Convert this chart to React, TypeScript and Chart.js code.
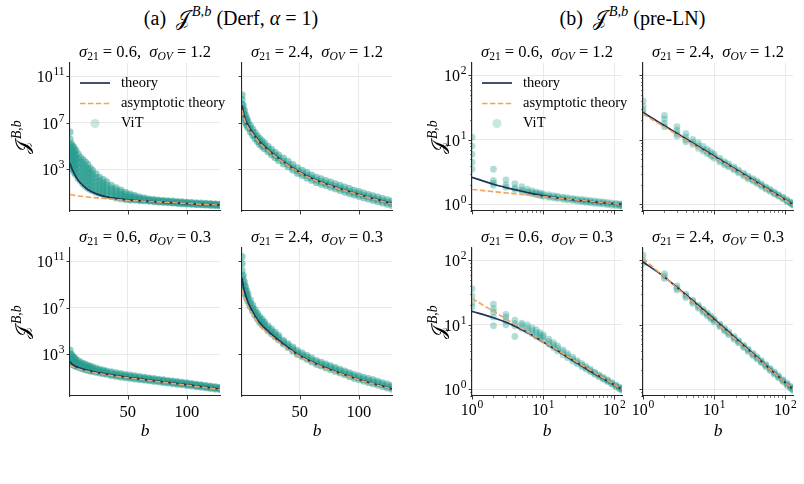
import React, { useEffect, useRef } from "react";
import { Chart, registerables } from "chart.js";

Chart.register(...registerables);

const SERIF = '"Liberation Serif", "Times New Roman", serif';
const SCRIPT = '"DejaVu Serif", "DejaVu Sans", serif';
const NAVY = "#1d3557";
const ORANGE = "#f4a261";
const TEAL_FILL_A = "rgba(42, 157, 143, 0.5)";
const TEAL_FILL_B = "rgba(42, 157, 143, 0.36)";
const TEAL_LEGEND = "rgba(42, 157, 143, 0.25)";
const GRID = "#e9e9e9";
const INK = "#262626";

// ---------------- axes ----------------
const X_RANGE = [1, 128];
const Y_RANGE_A = [0.25, 1.4e12];
const Y_RANGE_B = [0.79, 155];
const X_TICKS_A = [50, 100];
const X_TICKS_B = [1, 10, 100];
const Y_TICKS_A = [1e3, 1e7, 1e11];
const Y_TICKS_B = [1, 10, 100];
const MINOR_B = [0.8, 0.9, 2, 3, 4, 5, 6, 7, 8, 9, 20, 30, 40, 50, 60, 70, 80, 90];

// ---------------- (a) Derf, alpha = 1 : values are log10 J ----------------
const B_LINE = [1, 2, 3, 4, 6, 8, 12, 16, 24, 32, 48, 64, 96, 128];

const derfTheory_06_12 = [3.5, 3.2, 2.95, 2.75, 2.35, 2.05, 1.6, 1.25, 0.85, 0.62, 0.38, 0.25, 0.05, -0.1];
const derfAsym_06_12 = [0.82, 0.79, 0.77, 0.75, 0.72, 0.69, 0.65, 0.6, 0.53, 0.46, 0.33, 0.24, 0.07, -0.1];
const derfTheory_24_12 = [8.5, 7.95, 7.55, 7.2, 6.8, 6.45, 5.85, 5.35, 4.6, 3.95, 2.85, 2.05, 0.95, 0.04];
const derfAsym_24_12 = [8.1, 7.65, 7.3, 7.0, 6.6, 6.3, 5.75, 5.25, 4.52, 3.9, 2.8, 2.0, 0.92, 0.0];
const derfTheory_06_03 = [2.36, 2.22, 2.12, 2.05, 1.93, 1.85, 1.72, 1.6, 1.42, 1.28, 1.03, 0.82, 0.42, 0.0];
const derfAsym_06_03 = [2.05, 1.99, 1.93, 1.88, 1.8, 1.73, 1.62, 1.52, 1.36, 1.23, 0.99, 0.78, 0.38, -0.04];
const derfTheory_24_03 = [9.55, 8.9, 8.45, 8.1, 7.5, 7.05, 6.3, 5.7, 4.9, 4.2, 3.0, 2.15, 0.95, 0.0];
const derfAsym_24_03 = [8.6, 8.2, 7.9, 7.6, 7.1, 6.75, 6.1, 5.45, 4.7, 4.05, 2.93, 2.1, 0.92, -0.02];

// ViT measurements, one list of log10 J values per b
const B_VIT_A = [1, 2, 3, 4, 5, 6, 8, 10, 12, 14, 16, 18, 20, 23, 26, 29, 32, 36, 40, 44, 48, 52, 56, 60, 64, 68, 72, 76, 80, 84, 88, 92, 96, 100, 104, 108, 112, 116, 120, 124, 128];

const derfVit_06_12 = [
  [6.2, 5.6, 5.1, 4.7, 4.3, 3.9, 3.6],
  [5.2, 4.8, 4.4, 4.0, 3.6, 3.3],
  [5.0, 4.6, 4.2, 3.8, 3.4, 3.05],
  [4.9, 4.5, 4.1, 3.7, 3.3, 2.9],
  [4.7, 4.3, 3.9, 3.5, 3.1, 2.7],
  [4.6, 4.2, 3.8, 3.4, 3.0, 2.55],
  [4.3, 3.9, 3.5, 3.1, 2.65, 2.2],
  [4.0, 3.6, 3.2, 2.8, 2.4, 2.0],
  [3.8, 3.4, 3.0, 2.6, 2.2, 1.75],
  [3.6, 3.2, 2.8, 2.4, 2.0, 1.55],
  [3.4, 3.0, 2.6, 2.2, 1.8, 1.38],
  [3.1, 2.75, 2.4, 2.0, 1.65, 1.28],
  [2.9, 2.55, 2.2, 1.85, 1.5, 1.17],
  [2.6, 2.3, 1.95, 1.65, 1.32, 1.02],
  [2.3, 2.0, 1.7, 1.45, 1.18, 0.93],
  [2.1, 1.8, 1.55, 1.3, 1.05, 0.83],
  [1.9, 1.62, 1.38, 1.15, 0.94, 0.74],
  [1.6, 1.38, 1.17, 0.98, 0.8, 0.65],
  [1.4, 1.2, 1.0, 0.82, 0.65, 0.52],
  [1.2, 1.02, 0.85, 0.7, 0.56, 0.46],
  [1.0, 0.85, 0.7, 0.57, 0.47, 0.4],
  [0.85, 0.72, 0.6, 0.5, 0.42, 0.36],
  [0.72, 0.6, 0.5, 0.42, 0.34],
  [0.6, 0.5, 0.42, 0.35, 0.3],
  [0.5, 0.42, 0.35, 0.28],
  [0.43, 0.36, 0.3, 0.24],
  [0.38, 0.31, 0.26, 0.21],
  [0.34, 0.27, 0.22, 0.18],
  [0.3, 0.24, 0.19, 0.15],
  [0.27, 0.21, 0.16, 0.12],
  [0.24, 0.18, 0.13, 0.09],
  [0.21, 0.15, 0.1, 0.06],
  [0.18, 0.12, 0.07, 0.03],
  [0.15, 0.09, 0.05, 0.01],
  [0.12, 0.07, 0.02, -0.02],
  [0.1, 0.04, 0.0, -0.04],
  [0.07, 0.02, -0.02, -0.06],
  [0.05, 0.0, -0.04, -0.08],
  [0.03, -0.02, -0.06, -0.1],
  [0.0, -0.04, -0.08, -0.12],
  [-0.02, -0.06, -0.1, -0.14],
];

const derfVit_24_12 = [
  [9.4, 9.0, 8.6, 8.2],
  [8.5, 8.15, 7.8],
  [8.05, 7.7, 7.4],
  [7.65, 7.3, 7.0],
  [7.38, 7.05, 6.78],
  [7.15, 6.85, 6.58],
  [6.78, 6.5, 6.23],
  [6.45, 6.18, 5.93],
  [6.15, 5.88, 5.63],
  [5.88, 5.62, 5.38],
  [5.63, 5.37, 5.13],
  [5.43, 5.18, 4.95],
  [5.24, 5.0, 4.77],
  [4.97, 4.72, 4.5],
  [4.71, 4.46, 4.24],
  [4.46, 4.21, 3.99],
  [4.22, 3.97, 3.75],
  [3.95, 3.69, 3.47],
  [3.67, 3.42, 3.2],
  [3.39, 3.13, 2.92],
  [3.11, 2.86, 2.65],
  [2.9, 2.66, 2.45],
  [2.7, 2.46, 2.25],
  [2.5, 2.26, 2.05],
  [2.3, 2.06, 1.86],
  [2.16, 1.92, 1.72],
  [2.02, 1.79, 1.59],
  [1.88, 1.65, 1.45],
  [1.74, 1.51, 1.31],
  [1.6, 1.37, 1.17],
  [1.46, 1.23, 1.03],
  [1.32, 1.1, 0.9],
  [1.18, 0.96, 0.77],
  [1.06, 0.85, 0.66],
  [0.94, 0.73, 0.54],
  [0.82, 0.62, 0.43],
  [0.71, 0.51, 0.32],
  [0.59, 0.39, 0.2],
  [0.47, 0.28, 0.09],
  [0.35, 0.16, -0.02],
  [0.24, 0.05, -0.13],
];

const derfVit_06_03 = [
  [3.35, 3.0, 2.7, 2.4],
  [3.0, 2.75, 2.5, 2.25],
  [2.85, 2.6, 2.35, 2.15],
  [2.75, 2.5, 2.28, 2.08],
  [2.65, 2.42, 2.2, 2.02],
  [2.55, 2.35, 2.15, 1.96],
  [2.42, 2.22, 2.05, 1.88],
  [2.3, 2.12, 1.95, 1.8],
  [2.2, 2.04, 1.88, 1.74],
  [2.12, 1.96, 1.81, 1.68],
  [2.04, 1.89, 1.75, 1.62],
  [1.96, 1.82, 1.69, 1.57],
  [1.9, 1.76, 1.63, 1.52],
  [1.8, 1.67, 1.55, 1.45],
  [1.7, 1.59, 1.48, 1.39],
  [1.62, 1.52, 1.42, 1.33],
  [1.55, 1.45, 1.36, 1.28],
  [1.47, 1.36, 1.26, 1.17],
  [1.39, 1.28, 1.19, 1.1],
  [1.32, 1.22, 1.13, 1.04],
  [1.25, 1.15, 1.06, 0.98],
  [1.19, 1.1, 1.01, 0.93],
  [1.13, 1.04, 0.95, 0.87],
  [1.07, 0.98, 0.9, 0.82],
  [1.01, 0.93, 0.85, 0.77],
  [0.95, 0.87, 0.8, 0.72],
  [0.9, 0.82, 0.75, 0.67],
  [0.84, 0.77, 0.7, 0.62],
  [0.79, 0.72, 0.65, 0.57],
  [0.73, 0.66, 0.6, 0.52],
  [0.68, 0.61, 0.55, 0.47],
  [0.63, 0.56, 0.5, 0.42],
  [0.57, 0.51, 0.45, 0.37],
  [0.52, 0.46, 0.4, 0.32],
  [0.47, 0.41, 0.35, 0.27],
  [0.41, 0.35, 0.29, 0.21],
  [0.36, 0.3, 0.24, 0.16],
  [0.3, 0.25, 0.19, 0.11],
  [0.24, 0.19, 0.13, 0.05],
  [0.19, 0.14, 0.08, 0.0],
  [0.13, 0.09, 0.03, -0.05],
];

const derfVit_24_03 = [
  [11.4, 10.8, 10.2, 9.7],
  [9.8, 9.4, 9.0],
  [9.2, 8.85, 8.5],
  [8.8, 8.45, 8.15],
  [8.45, 8.15, 7.85],
  [8.15, 7.85, 7.55],
  [7.65, 7.38, 7.1],
  [7.22, 6.98, 6.72],
  [6.85, 6.6, 6.35],
  [6.52, 6.3, 6.05],
  [6.22, 6.0, 5.75],
  [6.0, 5.78, 5.55],
  [5.77, 5.56, 5.35],
  [5.45, 5.25, 5.05],
  [5.15, 4.96, 4.77],
  [4.88, 4.69, 4.5],
  [4.6, 4.42, 4.24],
  [4.2, 4.04, 3.88],
  [3.9, 3.74, 3.58],
  [3.6, 3.44, 3.28],
  [3.3, 3.14, 2.98],
  [3.09, 2.93, 2.77],
  [2.88, 2.72, 2.56],
  [2.66, 2.5, 2.34],
  [2.45, 2.29, 2.13],
  [2.3, 2.14, 1.98],
  [2.15, 1.99, 1.83],
  [2.0, 1.84, 1.68],
  [1.85, 1.69, 1.53],
  [1.7, 1.54, 1.38],
  [1.55, 1.39, 1.23],
  [1.4, 1.24, 1.08],
  [1.25, 1.09, 0.93],
  [1.13, 0.97, 0.81],
  [1.01, 0.85, 0.69],
  [0.89, 0.73, 0.57],
  [0.78, 0.62, 0.46],
  [0.66, 0.5, 0.34],
  [0.54, 0.38, 0.22],
  [0.42, 0.26, 0.1],
  [0.3, 0.14, -0.02],
];

// ---------------- (b) pre-LN : plain J values ----------------
const lnTheory_06_12 = [2.63, 2.05, 1.82, 1.69, 1.53, 1.43, 1.32, 1.26, 1.19, 1.15, 1.1, 1.07, 1.03, 1.0];
const lnAsymB_06_12 = [1, 128];
const lnAsym_06_12 = [1.7, 1.0];
const lnTheoryB_24_12 = [1, 128];
const lnTheory_24_12 = [26.5, 1.0];
const lnAsymB_24_12 = [1, 128];
const lnAsym_24_12 = [25.1, 0.98];
const lnTheory_06_03 = [16.2, 12.9, 11, 9.55, 7.59, 6.31, 4.79, 3.98, 2.95, 2.45, 1.86, 1.55, 1.2, 1.0];
const lnAsymB_06_03 = [1, 128];
const lnAsym_06_03 = [25.7, 1.0];
const lnTheoryB_24_03 = [1, 2, 128];
const lnTheory_24_03 = [94, 55, 1.0];
const lnAsymB_24_03 = [1, 128];
const lnAsym_24_03 = [107, 1.0];

const B_VIT_B = [1, 2, 3, 4, 5, 6, 7, 8, 9, 10, 12, 14, 16, 19, 22, 26, 30, 35, 40, 46, 53, 61, 70, 80, 92, 105, 118, 128];

const lnVit_06_12 = [
  [11, 8, 6, 4.5, 3.5],
  [3.5, 2.35, 2.15, 1.98],
  [2.4, 2.0, 1.85],
  [2.1, 1.8, 1.7],
  [1.88, 1.68, 1.6],
  [1.72, 1.58, 1.52],
  [1.62, 1.52, 1.46],
  [1.55, 1.47, 1.41],
  [1.5, 1.43, 1.37],
  [1.46, 1.39, 1.34],
  [1.41, 1.34, 1.29],
  [1.37, 1.31, 1.26],
  [1.34, 1.28, 1.23],
  [1.3, 1.25, 1.2],
  [1.27, 1.22, 1.17],
  [1.24, 1.19, 1.15],
  [1.21, 1.17, 1.12],
  [1.19, 1.14, 1.1],
  [1.17, 1.12, 1.08],
  [1.15, 1.1, 1.06],
  [1.13, 1.08, 1.04],
  [1.11, 1.06, 1.02],
  [1.09, 1.05, 1.01],
  [1.07, 1.03, 0.99],
  [1.05, 1.01, 0.97],
  [1.04, 1.0, 0.96],
  [1.02, 0.98, 0.95],
  [1.01, 0.97, 0.94],
];

const lnVit_24_12 = [
  [40, 33, 29, 26],
  [24, 21, 18, 16],
  [16, 14, 12.5, 11.5],
  [12.5, 11, 10, 9.3],
  [10.2, 9.2, 8.5],
  [9.0, 8.1, 7.4],
  [7.9, 7.2, 6.7],
  [7.1, 6.6, 6.1],
  [6.5, 6.0, 5.6],
  [6.0, 5.6, 5.2],
  [5.2, 4.85, 4.55],
  [4.6, 4.35, 4.1],
  [4.25, 4.0, 3.8],
  [3.8, 3.6, 3.42],
  [3.4, 3.22, 3.07],
  [3.05, 2.9, 2.76],
  [2.73, 2.6, 2.48],
  [2.5, 2.4, 2.3],
  [2.29, 2.2, 2.11],
  [2.07, 1.99, 1.91],
  [1.87, 1.8, 1.73],
  [1.71, 1.65, 1.59],
  [1.55, 1.5, 1.45],
  [1.42, 1.38, 1.34],
  [1.3, 1.26, 1.22],
  [1.18, 1.14, 1.1],
  [1.09, 1.06, 1.03],
  [1.03, 1.0, 0.97],
];

const lnVit_06_03 = [
  [36, 28, 22, 19],
  [21, 17.8, 15.8, 13.2, 9.7],
  [14.5, 13.2, 11.5, 10],
  [11.8, 10.5, 9.6, 6.6],
  [10.6, 10, 8.8],
  [10, 9, 8],
  [9, 8.2, 7.3],
  [8.4, 7.6, 6.6],
  [7.6, 7.0, 6.2],
  [7.0, 6.5, 5.8],
  [6.0, 5.5, 5.0],
  [5.3, 4.9, 4.4],
  [4.7, 4.35, 3.95],
  [4.1, 3.8, 3.45],
  [3.6, 3.35, 3.1],
  [3.15, 2.95, 2.75],
  [2.8, 2.65, 2.5],
  [2.5, 2.38, 2.25],
  [2.27, 2.16, 2.06],
  [2.05, 1.96, 1.88],
  [1.85, 1.78, 1.71],
  [1.68, 1.62, 1.56],
  [1.53, 1.48, 1.43],
  [1.4, 1.36, 1.32],
  [1.28, 1.24, 1.2],
  [1.17, 1.13, 1.1],
  [1.08, 1.05, 1.02],
  [1.03, 1.0, 0.97],
];

const lnVit_24_03 = [
  [120, 100, 90],
  [62, 57, 52],
  [40, 37, 34.5],
  [30, 28, 26.5],
  [24.2, 22.8, 21.5],
  [20.2, 19.1, 18],
  [17.3, 16.4, 15.6],
  [15.3, 14.5, 13.8],
  [13.6, 12.9, 12.3],
  [12.3, 11.7, 11.1],
  [10.3, 9.8, 9.35],
  [8.8, 8.4, 8.0],
  [7.75, 7.4, 7.05],
  [6.6, 6.3, 6.0],
  [5.7, 5.46, 5.22],
  [4.85, 4.65, 4.45],
  [4.22, 4.05, 3.88],
  [3.62, 3.48, 3.34],
  [3.19, 3.07, 2.95],
  [2.78, 2.68, 2.58],
  [2.43, 2.34, 2.25],
  [2.12, 2.04, 1.96],
  [1.86, 1.79, 1.72],
  [1.63, 1.57, 1.51],
  [1.42, 1.37, 1.32],
  [1.26, 1.21, 1.16],
  [1.12, 1.08, 1.04],
  [1.04, 1.0, 0.96],
];

// ---------------- layout ----------------
const PLOT_W = 150;
const PLOT_H = 148;
const PAD_L = 50;
const PAD_T = 8;
const PAD_R = 12;
const PAD_B = 48;
const CANVAS_W = PAD_L + PLOT_W + PAD_R;
const CANVAS_H = PAD_T + PLOT_H + PAD_B;
const COL_X = { a: [70, 242], b: [472, 643] };
const ROW_Y = [63, 248];

type Panel = {
  id: string;
  group: "a" | "b";
  row: number;
  col: number;
  s21: string;
  sOV: string;
  theoryX: number[];
  theoryY: number[];
  asymX: number[];
  asymY: number[];
  vitX: number[];
  vitY: number[][];
};

const PANELS: Panel[] = [
  { id: "a00", group: "a", row: 0, col: 0, s21: "0.6", sOV: "1.2", theoryX: B_LINE, theoryY: derfTheory_06_12, asymX: B_LINE, asymY: derfAsym_06_12, vitX: B_VIT_A, vitY: derfVit_06_12 },
  { id: "a01", group: "a", row: 0, col: 1, s21: "2.4", sOV: "1.2", theoryX: B_LINE, theoryY: derfTheory_24_12, asymX: B_LINE, asymY: derfAsym_24_12, vitX: B_VIT_A, vitY: derfVit_24_12 },
  { id: "a10", group: "a", row: 1, col: 0, s21: "0.6", sOV: "0.3", theoryX: B_LINE, theoryY: derfTheory_06_03, asymX: B_LINE, asymY: derfAsym_06_03, vitX: B_VIT_A, vitY: derfVit_06_03 },
  { id: "a11", group: "a", row: 1, col: 1, s21: "2.4", sOV: "0.3", theoryX: B_LINE, theoryY: derfTheory_24_03, asymX: B_LINE, asymY: derfAsym_24_03, vitX: B_VIT_A, vitY: derfVit_24_03 },
  { id: "b00", group: "b", row: 0, col: 0, s21: "0.6", sOV: "1.2", theoryX: B_LINE, theoryY: lnTheory_06_12, asymX: lnAsymB_06_12, asymY: lnAsym_06_12, vitX: B_VIT_B, vitY: lnVit_06_12 },
  { id: "b01", group: "b", row: 0, col: 1, s21: "2.4", sOV: "1.2", theoryX: lnTheoryB_24_12, theoryY: lnTheory_24_12, asymX: lnAsymB_24_12, asymY: lnAsym_24_12, vitX: B_VIT_B, vitY: lnVit_24_12 },
  { id: "b10", group: "b", row: 1, col: 0, s21: "0.6", sOV: "0.3", theoryX: B_LINE, theoryY: lnTheory_06_03, asymX: lnAsymB_06_03, asymY: lnAsym_06_03, vitX: B_VIT_B, vitY: lnVit_06_03 },
  { id: "b11", group: "b", row: 1, col: 1, s21: "2.4", sOV: "0.3", theoryX: lnTheoryB_24_03, theoryY: lnTheory_24_03, asymX: lnAsymB_24_03, asymY: lnAsym_24_03, vitX: B_VIT_B, vitY: lnVit_24_03 },
];

const POW_BASE = 16;
const POW_EXP = 11.5;

// "10" with a raised exponent, as a log-axis tick label
function drawPow(ctx: CanvasRenderingContext2D, exp: string, x: number, baseY: number, align: "right" | "center") {
  ctx.font = `${POW_BASE}px ${SERIF}`;
  const w1 = ctx.measureText("10").width;
  ctx.font = `${POW_EXP}px ${SERIF}`;
  const w2 = ctx.measureText(exp).width;
  const total = w1 + 0.8 + w2;
  const x0 = align === "right" ? x - total : x - total / 2;
  ctx.textAlign = "left";
  ctx.textBaseline = "alphabetic";
  ctx.font = `${POW_BASE}px ${SERIF}`;
  ctx.fillText("10", x0, baseY);
  ctx.font = `${POW_EXP}px ${SERIF}`;
  ctx.fillText(exp, x0 + w1 + 0.8, baseY - 7);
}

function PanelChart({ p }: { p: Panel }) {
  const ref = useRef<HTMLCanvasElement>(null);
  const isA = p.group === "a";
  const left = COL_X[p.group][p.col];
  const top = ROW_Y[p.row];

  useEffect(() => {
    const canvas = ref.current;
    if (!canvas) return;
    const toJ = (v: number) => (isA ? Math.pow(10, v) : v);
    const vitPts: { x: number; y: number }[] = [];
    p.vitX.forEach((b, i) => p.vitY[i].forEach((v) => vitPts.push({ x: b, y: toJ(v) })));
    const theory = p.theoryX.map((b, i) => ({ x: b, y: toJ(p.theoryY[i]) }));
    const asym = p.asymX.map((b, i) => ({ x: b, y: toJ(p.asymY[i]) }));
    const xMajors = isA ? X_TICKS_A : X_TICKS_B;
    const yMajors = isA ? Y_TICKS_A : Y_TICKS_B;
    const yRange = isA ? Y_RANGE_A : Y_RANGE_B;
    const showX = p.row === 1;
    const showY = p.col === 0;
    const showLegend = p.row === 0 && p.col === 0;

    const decor = {
      id: "axisDecor",
      afterDraw(chart: any) {
        const { ctx, chartArea: ca } = chart;
        const xs = chart.scales.x;
        const ys = chart.scales.y;
        const seg = (x1: number, y1: number, x2: number, y2: number) => {
          ctx.beginPath();
          ctx.moveTo(x1, y1);
          ctx.lineTo(x2, y2);
          ctx.stroke();
        };
        ctx.save();
        ctx.strokeStyle = INK;
        ctx.lineWidth = 0.9;
        yMajors.forEach((v) => {
          const y = Math.round(ys.getPixelForValue(v)) + 0.5;
          seg(ca.left - 3.5, y, ca.left, y);
        });
        xMajors.forEach((v) => {
          const x = Math.round(xs.getPixelForValue(v)) + 0.5;
          seg(x, ca.bottom, x, ca.bottom + 3.5);
        });
        if (!isA) {
          ctx.lineWidth = 0.6;
          MINOR_B.forEach((v) => {
            if (v >= yRange[0] && v <= yRange[1]) {
              const y = Math.round(ys.getPixelForValue(v)) + 0.5;
              seg(ca.left - 2, y, ca.left, y);
            }
            if (v >= X_RANGE[0] && v <= X_RANGE[1]) {
              const x = Math.round(xs.getPixelForValue(v)) + 0.5;
              seg(x, ca.bottom, x, ca.bottom + 2);
            }
          });
        }
        ctx.fillStyle = "#000";
        if (showY) {
          yMajors.forEach((v) => {
            const y = ys.getPixelForValue(v);
            drawPow(ctx, String(Math.round(Math.log10(v))), ca.left - 5.5, y + 5.8, "right");
          });
        }
        if (showX) {
          xMajors.forEach((v) => {
            const x = xs.getPixelForValue(v);
            if (isA) {
              ctx.font = `16.5px ${SERIF}`;
              ctx.textAlign = "center";
              ctx.textBaseline = "alphabetic";
              ctx.fillText(String(v), x, ca.bottom + 20.5);
            } else {
              drawPow(ctx, String(Math.round(Math.log10(v))), x, ca.bottom + 18.5, "center");
            }
          });
          ctx.font = `italic 17.5px ${SERIF}`;
          ctx.textAlign = "center";
          ctx.textBaseline = "alphabetic";
          ctx.fillText("b", (ca.left + ca.right) / 2, ca.bottom + 40);
        }
        if (showLegend) {
          const lx = ca.left + 10;
          const tx = ca.left + 51;
          const rows = [ca.top + 20, ca.top + 40.5, ca.top + 60.5];
          ctx.lineWidth = 1.7;
          ctx.strokeStyle = NAVY;
          seg(lx, rows[0], lx + 30, rows[0]);
          ctx.lineWidth = 1.6;
          ctx.strokeStyle = ORANGE;
          ctx.setLineDash([5.5, 2.4]);
          seg(lx, rows[1], lx + 30, rows[1]);
          ctx.setLineDash([]);
          ctx.fillStyle = TEAL_LEGEND;
          ctx.beginPath();
          ctx.arc(lx + 15, rows[2], 4.5, 0, Math.PI * 2);
          ctx.fill();
          ctx.fillStyle = "#000";
          ctx.font = `14.5px ${SERIF}`;
          ctx.textAlign = "left";
          ctx.textBaseline = "middle";
          ctx.fillText("theory", tx, rows[0]);
          ctx.fillText("asymptotic theory", tx, rows[1]);
          ctx.fillText("ViT", tx, rows[2]);
        }
        ctx.restore();
      },
    };

    const chart = new Chart(canvas, {
      type: "scatter",
      data: {
        datasets: [
          { label: "ViT", data: vitPts, backgroundColor: isA ? TEAL_FILL_A : TEAL_FILL_B, borderWidth: 0, pointRadius: isA ? 3.6 : 3.4, order: 2 } as any,
          { label: "theory", data: theory, showLine: true, borderColor: NAVY, borderWidth: 1.7, pointRadius: 0, cubicInterpolationMode: "monotone", order: 1 } as any,
          { label: "asymptotic theory", data: asym, showLine: true, borderColor: ORANGE, borderWidth: 1.6, borderDash: [5.5, 2.4], pointRadius: 0, cubicInterpolationMode: "monotone", order: 0 } as any,
        ],
      },
      options: {
        animation: false,
        responsive: false,
        events: [],
        layout: { padding: { left: 0, top: PAD_T, right: PAD_R, bottom: 0 } },
        plugins: { legend: { display: false }, tooltip: { enabled: false } },
        scales: {
          x: {
            type: isA ? "linear" : "logarithmic",
            min: X_RANGE[0],
            max: X_RANGE[1],
            ticks: { display: false },
            grid: { color: GRID, lineWidth: 1, drawTicks: false },
            border: { color: INK, width: 1.1 },
            afterBuildTicks: (s: any) => {
              s.ticks = xMajors.map((v) => ({ value: v }));
            },
            afterFit: (s: any) => {
              s.height = PAD_B;
              s.paddingLeft = 0;
              s.paddingRight = 0;
            },
          },
          y: {
            type: "logarithmic",
            min: yRange[0],
            max: yRange[1],
            ticks: { display: false },
            grid: { color: GRID, lineWidth: 1, drawTicks: false },
            border: { color: INK, width: 1.1 },
            afterBuildTicks: (s: any) => {
              s.ticks = yMajors.map((v) => ({ value: v }));
            },
            afterFit: (s: any) => {
              s.width = PAD_L;
              s.paddingTop = 0;
              s.paddingBottom = 0;
            },
          },
        } as any,
      },
      plugins: [decor],
    });
    return () => chart.destroy();
  }, [p]);

  return (
    <canvas
      ref={ref}
      width={CANVAS_W}
      height={CANVAS_H}
      style={{ position: "absolute", left: left - PAD_L, top: top - PAD_T, width: CANVAS_W, height: CANVAS_H }}
    />
  );
}

const subStyle: React.CSSProperties = { fontSize: "0.7em", position: "relative", top: "0.3em" };
const supStyle: React.CSSProperties = { fontSize: "0.72em", position: "relative", top: "-0.6em", fontStyle: "italic", marginLeft: "0.12em" };

function ScriptJ() {
  return (
    <span style={{ whiteSpace: "nowrap" }}>
      <span style={{ fontFamily: SCRIPT }}>𝒥</span>
      <span style={supStyle}>B,b</span>
    </span>
  );
}

function SubTitle({ cx, baseline, s21, sOV }: { cx: number; baseline: number; s21: string; sOV: string }) {
  return (
    <div
      style={{
        position: "absolute",
        left: cx,
        top: baseline - 13.8,
        transform: "translateX(-50%)",
        fontSize: 16.5,
        lineHeight: "16.5px",
        whiteSpace: "nowrap",
      }}
    >
      <i>σ</i>
      <span style={subStyle}>21</span>
      {" = "}
      {s21},{"\u2002"}
      <i>σ</i>
      <span style={subStyle}>
        <i>OV</i>
      </span>
      {" = "}
      {sOV}
    </div>
  );
}

function YLabel({ cx, cy }: { cx: number; cy: number }) {
  return (
    <div
      style={{
        position: "absolute",
        left: cx,
        top: cy,
        transform: "translate(-50%, -50%) rotate(-90deg)",
        fontSize: 19,
        lineHeight: "19px",
        whiteSpace: "nowrap",
      }}
    >
      <ScriptJ />
    </div>
  );
}

const groupTitleStyle: React.CSSProperties = {
  position: "absolute",
  top: 8,
  transform: "translateX(-50%)",
  fontSize: 20,
  lineHeight: "20px",
  whiteSpace: "nowrap",
};

export default function App() {
  useEffect(() => {
    document.body.style.margin = "0";
  }, []);
  const groupCenter = (g: "a" | "b") => (COL_X[g][0] + COL_X[g][1] + PLOT_W) / 2;
  const titleBase = [57.5, 242.7];
  const yLabelX = { a: 22.5, b: 439 };
  return (
    <div
      style={{
        position: "absolute",
        left: 0,
        top: 0,
        width: 804,
        height: 484,
        background: "#fff",
        overflow: "hidden",
        fontFamily: SERIF,
        color: "#000",
      }}
    >
      {PANELS.map((p) => (
        <PanelChart key={p.id} p={p} />
      ))}
      {PANELS.map((p) => (
        <SubTitle
          key={"t" + p.id}
          cx={COL_X[p.group][p.col] + PLOT_W / 2}
          baseline={titleBase[p.row]}
          s21={p.s21}
          sOV={p.sOV}
        />
      ))}
      {(["a", "b"] as const).map((g) =>
        ROW_Y.map((ry, r) => <YLabel key={g + r} cx={yLabelX[g]} cy={ry + PLOT_H / 2} />)
      )}
      <div style={{ ...groupTitleStyle, left: groupCenter("a") }}>
        (a){"\u2002"}
        <ScriptJ /> (Derf, <i>α</i> = 1)
      </div>
      <div style={{ ...groupTitleStyle, left: groupCenter("b") }}>
        (b){"\u2002"}
        <ScriptJ /> (pre-LN)
      </div>
    </div>
  );
}
